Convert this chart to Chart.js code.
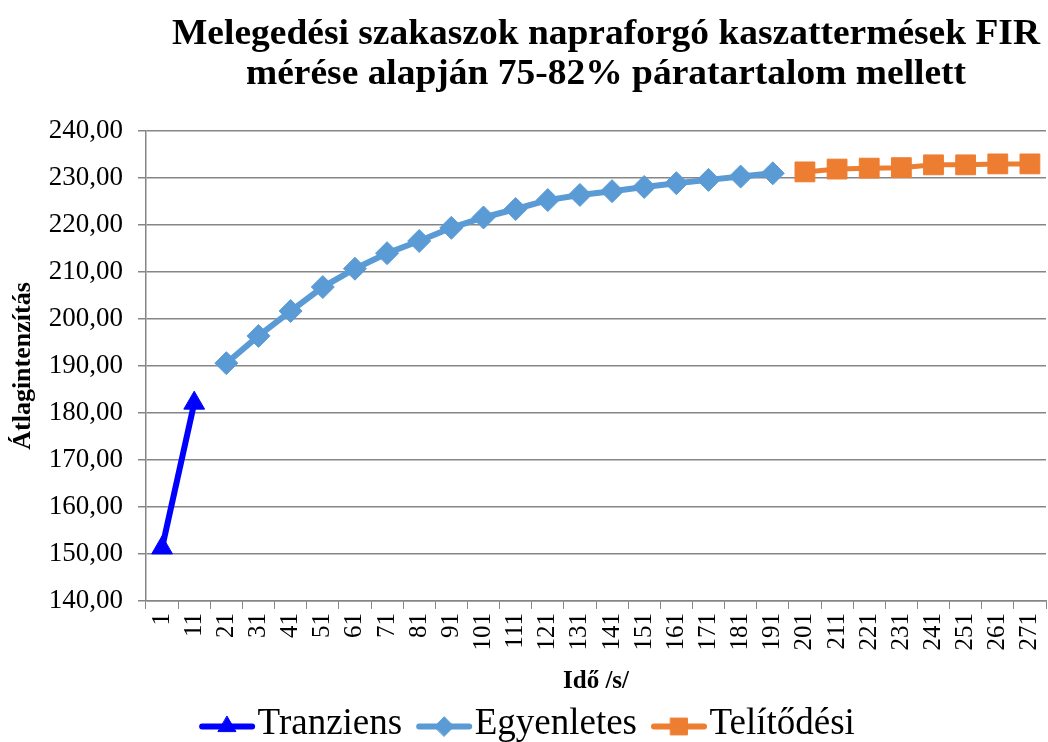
<!DOCTYPE html>
<html>
<head>
<meta charset="utf-8">
<script src="https://cdn.jsdelivr.net/npm/chart.js@4/dist/chart.umd.min.js"></script>
<style>
  html, body { margin: 0; padding: 0; background: #fff; }
  #wrap { width: 1048px; height: 742px; }
</style>
</head>
<body>
<div id="wrap"><canvas id="fir"></canvas></div>
<script>
// kategóriák (idő, s)
const times = [1, 11, 21, 31, 41, 51, 61, 71, 81, 91, 101, 111, 121, 131, 141,
  151, 161, 171, 181, 191, 201, 211, 221, 231, 241, 251, 261, 271];

// sorozatok
const tranziens = [151.3, 182.1];
const egyenletes = [190.6, 196.4, 201.7, 206.8, 210.7, 214.0, 216.6, 219.4, 221.6,
  223.4, 225.3, 226.4, 227.2, 228.1, 228.9, 229.6, 230.3, 231.0];
const telitodesi = [231.3, 231.9, 232.1, 232.2, 232.8, 232.8, 233.0, 233.0];

const titleLines = ['Melegedési szakaszok napraforgó kaszattermések FIR',
  'mérése alapján 75-82% páratartalom mellett'];

const SERIF = '"Liberation Serif", "Times New Roman", serif';

// egy sorozatot a teljes kategóriatengelyre helyez, üres helyekkel
function place(vals, start) {
  const out = times.map(() => null);
  vals.forEach((v, i) => { out[start + i] = v; });
  return out;
}

const markers = {
  'Tranziens': { pointStyle: 'triangle', radius: 12 },
  'Egyenletes': { pointStyle: 'rectRot', radius: 11.5 },
  'Telítődési': { pointStyle: 'rect', radius: 14 }
};

const LEG_LINE = 56; // a jelmagyarázat vonalának hossza

// a rajzterület jobb széle a vászon széléig érjen, a jelmagyarázat kicsit jobbra
const stretchRight = {
  id: 'stretchRight',
  afterLayout(chart) {
    const R = chart.width - 2;
    const x = chart.scales.x;
    chart.chartArea.right = R;
    chart.chartArea.width = R - chart.chartArea.left;
    x.right = R;
    x.width = R - x.left;
    x.configure();
    if (chart.legend) {
      chart.legend.left += 4;
      chart.legend.right += 4;
    }
  }
};

// cím a rajzterület fölé középre, kissé szélesítve
const titlePlugin = {
  id: 'titleText',
  afterDraw(chart) {
    const ctx = chart.ctx;
    const cx = (chart.chartArea.left + chart.chartArea.right) / 2 + 10;
    ctx.save();
    ctx.fillStyle = '#000';
    ctx.font = 'bold 36px ' + SERIF;
    ctx.textAlign = 'center';
    ctx.textBaseline = 'alphabetic';
    const sx = 868 / ctx.measureText(titleLines[0]).width;
    ctx.translate(cx, 0);
    ctx.scale(sx, 1);
    ctx.fillText(titleLines[0], 0, 44);
    ctx.fillText(titleLines[1], 0, 84);
    ctx.restore();
  }
};

// vonal + jelölő a jelmagyarázatban
const legendMarkers = {
  id: 'legendMarkers',
  afterDraw(chart) {
    const lg = chart.legend;
    if (!lg || !lg.legendHitBoxes) return;
    const ctx = chart.ctx;
    const fs = lg.options.labels.font.size;
    lg.legendHitBoxes.forEach((hb, i) => {
      const item = lg.legendItems[i];
      const m = markers[item.text];
      const y = hb.top + fs / 2 + 2;
      ctx.save();
      ctx.strokeStyle = item.fillStyle;
      ctx.fillStyle = item.fillStyle;
      ctx.lineWidth = 6;
      ctx.lineCap = 'round';
      ctx.beginPath();
      ctx.moveTo(hb.left + 3, y);
      ctx.lineTo(hb.left + LEG_LINE - 3, y);
      ctx.stroke();
      ctx.lineWidth = 1;
      Chart.helpers.drawPoint(ctx, { pointStyle: m.pointStyle, radius: m.radius * 0.85, rotation: 0, borderWidth: 1 },
        hb.left + LEG_LINE / 2, y);
      ctx.restore();
    });
  }
};

function series(label, data, color, width) {
  const m = markers[label];
  return {
    label: label,
    data: data,
    borderColor: color,
    backgroundColor: color,
    borderWidth: width,
    pointStyle: m.pointStyle,
    pointRadius: m.radius,
    pointHoverRadius: m.radius,
    pointBackgroundColor: color,
    pointBorderColor: color,
    pointBorderWidth: 1,
    tension: 0,
    spanGaps: false
  };
}

new Chart(document.getElementById('fir'), {
  type: 'line',
  data: {
    labels: times.map(String),
    datasets: [
      series('Tranziens', place(tranziens, 0), '#0000FF', 6),
      series('Egyenletes', place(egyenletes, 2), '#5B9BD5', 6),
      series('Telítődési', place(telitodesi, 20), '#ED7D31', 5)
    ]
  },
  options: {
    responsive: true,
    maintainAspectRatio: false,
    animation: false,
    layout: { padding: { top: 131, right: 2, left: 0, bottom: -11 } },
    plugins: {
      title: { display: false },
      tooltip: { enabled: false },
      legend: {
        position: 'bottom',
        labels: {
          color: '#000',
          font: { family: SERIF, size: 37, lineHeight: 1.0 },
          // a szövegig tartó rés kisebb legyen: a vonalat a plugin rajzolja
          boxWidth: LEG_LINE - 16,
          boxHeight: 0,
          padding: 14,
          generateLabels(chart) {
            return chart.data.datasets.map((ds, i) => ({
              text: ds.label,
              fillStyle: ds.borderColor,
              strokeStyle: ds.borderColor,
              lineWidth: 0,
              datasetIndex: i
            }));
          }
        }
      }
    },
    scales: {
      x: {
        offset: true,
        border: { color: '#868686', width: 1.5 },
        grid: { drawOnChartArea: false, drawTicks: true, tickLength: 8, color: '#868686', offset: true },
        ticks: {
          color: '#000',
          font: { family: SERIF, size: 25, lineHeight: 0.5 },
          minRotation: 90,
          maxRotation: 90,
          autoSkip: false,
          padding: 4
        },
        title: {
          display: true,
          text: 'Idő /s/',
          color: '#000',
          font: { family: SERIF, size: 25, weight: 'bold' },
          padding: { top: 4, bottom: -5 }
        },
        afterFit(scale) {
          scale.height = 91;
        }
      },
      y: {
        min: 140,
        max: 240,
        border: { color: '#868686', width: 1.5 },
        grid: { color: '#868686', lineWidth: 1.5, tickLength: 8 },
        ticks: {
          stepSize: 10,
          color: '#000',
          font: { family: SERIF, size: 27 },
          padding: 15,
          callback: v => v.toFixed(2).replace('.', ',')
        },
        title: {
          display: true,
          text: 'Átlagintenzítás',
          color: '#000',
          font: { family: SERIF, size: 26, weight: 'bold' },
          padding: { top: 8, bottom: 0 }
        },
        afterFit(scale) { scale.width = 146; }
      }
    }
  },
  plugins: [stretchRight, titlePlugin, legendMarkers]
});
</script>
</body>
</html>
